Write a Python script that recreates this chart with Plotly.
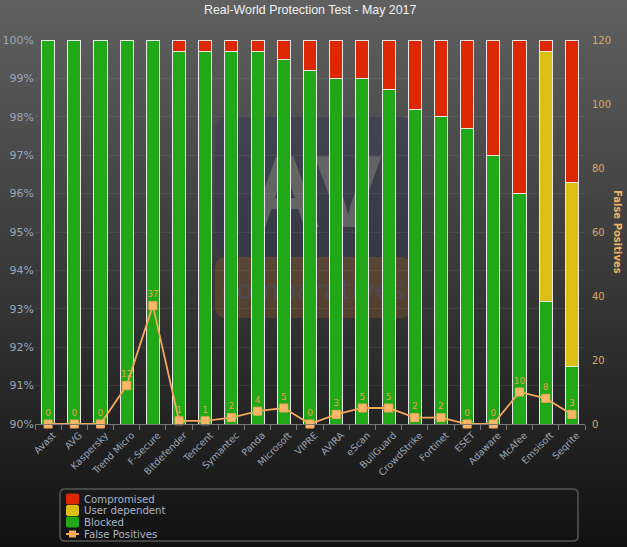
#!/usr/bin/env python3
import plotly.graph_objects as go

# --- DATA ---
vendors = ["Avast", "AVG", "Kaspersky", "Trend Micro", "F-Secure", "Bitdefender", "Tencent",
           "Symantec", "Panda", "Microsoft", "VIPRE", "AVIRA", "eScan", "BullGuard",
           "CrowdStrike", "Fortinet", "ESET", "Adaware", "McAfee", "Emsisoft", "Seqrite"]
blocked = [100, 100, 100, 100, 100, 99.7, 99.7, 99.7, 99.7, 99.5, 99.2,
           99.0, 99.0, 98.7, 98.2, 98.0, 97.7, 97.0, 96.0, 93.2, 91.5]
user_dependent = [0, 0, 0, 0, 0, 0, 0, 0, 0, 0, 0,
                  0, 0, 0, 0, 0, 0, 0, 0, 6.5, 4.8]
compromised = [0, 0, 0, 0, 0, 0.3, 0.3, 0.3, 0.3, 0.5, 0.8,
               1.0, 1.0, 1.3, 1.8, 2.0, 2.3, 3.0, 4.0, 0.3, 3.7]
false_positives = [0, 0, 0, 12, 37, 1, 1, 2, 4, 5, 0, 3, 5, 5, 2, 2, 0, 0, 10, 8, 3]
y_ticks = [90, 91, 92, 93, 94, 95, 96, 97, 98, 99, 100]
y2_ticks = [0, 20, 40, 60, 80, 100, 120]

# --- COLOURS ---
RED = "#dd2700"
YELLOW = "#dcbf14"
GREEN = "#21a819"
ORANGE = "#f5a85a"
ORANGE_TEXT = "#dca765"
AXIS_TEXT = "#9ba6b8"

# --- PAGE GEOMETRY ---
W, H = 627, 547
L, R, T, B = 35, 585, 40, 424


def px(x):
    return (x - L) / (R - L)


def py(y):
    return (B - y) / (B - T)


def rounded(x0, y0, x1, y1, r):
    return (f"M {px(x0 + r)} {py(y0)} L {px(x1 - r)} {py(y0)} Q {px(x1)} {py(y0)} {px(x1)} {py(y0 + r)} "
            f"L {px(x1)} {py(y1 - r)} Q {px(x1)} {py(y1)} {px(x1 - r)} {py(y1)} "
            f"L {px(x0 + r)} {py(y1)} Q {px(x0)} {py(y1)} {px(x0)} {py(y1 - r)} "
            f"L {px(x0)} {py(y0 + r)} Q {px(x0)} {py(y0)} {px(x0 + r)} {py(y0)} Z")


def rect(x0, y0, x1, y1, **kw):
    return dict(type="rect", xref="paper", yref="paper", x0=px(x0), x1=px(x1), y0=py(y1), y1=py(y0), **kw)


shapes = []

# background gradient, top to bottom
STEP = 3
for y in range(0, H, STEP):
    t = y / H
    g = round(0x60 + (0x11 - 0x60) * t)
    shapes.append(rect(0, y, W, y + STEP, layer="below", line_width=0, fillcolor=f"rgb({g},{g},{g})"))

# faint logo behind the bars
shapes.append(dict(type="path", xref="paper", yref="paper", layer="below", line_width=0,
                   path=rounded(215, 116, 412, 257, 14), fillcolor="rgba(45,50,85,0.35)"))
shapes.append(dict(type="path", xref="paper", yref="paper", layer="below", line_width=0,
                   path=rounded(215, 257, 412, 318, 12), fillcolor="rgba(170,100,40,0.27)"))
shapes.append(rect(235, 122, 395, 242, layer="below", line_width=0, fillcolor="rgba(0,0,0,0)",
                   label=dict(text="<b>AV</b>", font=dict(family="Liberation Sans", size=102, color="#646464"),
                              textposition="middle center")))
shapes.append(rect(215, 262, 412, 312, layer="below", line_width=0, fillcolor="rgba(0,0,0,0)",
                   label=dict(text="comparatives", font=dict(family="DejaVu Sans", size=27, color="#4d4c52"),
                              textposition="middle center")))

# legend box and entries, rows are tighter than the built-in legend allows
LEG_X0, LEG_Y0, LEG_X1, LEG_Y1 = 60, 489, 578, 541
shapes.append(dict(type="path", xref="paper", yref="paper", layer="above",
                   path=rounded(LEG_X0, LEG_Y0, LEG_X1, LEG_Y1, 5),
                   line=dict(color="#555555", width=1.5), fillcolor="rgba(0,0,0,0)"))
legend_rows = [("Compromised", RED, 499), ("User dependent", YELLOW, 510.5), ("Blocked", GREEN, 522)]
annotations = []
for name, colour, y in legend_rows:
    shapes.append(dict(type="path", xref="paper", yref="paper", layer="above", line_width=0,
                       path=rounded(66, y - 5.5, 79, y + 5.5, 2), fillcolor=colour))
shapes.append(rect(66, 533, 79, 535, layer="above", line_width=0, fillcolor=ORANGE))
shapes.append(rect(69, 530.5, 76, 537.5, layer="above", line_width=0, fillcolor=ORANGE))
for name, y in [("Compromised", 499), ("User dependent", 510.5), ("Blocked", 522), ("False Positives", 534)]:
    annotations.append(dict(xref="paper", yref="paper", x=px(82), y=py(y), text=name, showarrow=False,
                            xanchor="left", yanchor="middle", font=dict(family="DejaVu Sans", size=10.2, color="#a9b4c6")))

annotations.append(dict(xref="paper", yref="paper", x=px(310), y=py(9.5), text="Real-World Protection Test - May 2017",
                        showarrow=False, xanchor="center", yanchor="middle",
                        font=dict(family="Liberation Sans", size=12.4, color="#f2f2f2")))
annotations.append(dict(xref="paper", yref="paper", x=px(618), y=py(232), text="<b>False Positives</b>", textangle=90,
                        showarrow=False, xanchor="center", yanchor="middle",
                        font=dict(family="DejaVu Sans", size=10, color="#f2b162")))

# --- PLOT ---
fig = go.Figure()
bar_line = dict(color="#e8e8e8", width=1)
fig.add_bar(x=vendors, y=blocked, name="Blocked", marker=dict(color=GREEN, line=bar_line))
fig.add_bar(x=vendors, y=user_dependent, name="User dependent", marker=dict(color=YELLOW, line=bar_line))
fig.add_bar(x=vendors, y=compromised, name="Compromised", marker=dict(color=RED, line=bar_line))
fig.add_scatter(x=vendors, y=false_positives, name="False Positives", yaxis="y2", mode="lines+markers+text",
                text=[str(v) for v in false_positives], textposition="top center",
                textfont=dict(family="DejaVu Sans", size=9, color="#e0a548"),
                line=dict(color=ORANGE, width=1.8),
                marker=dict(symbol="square", size=8, color="#fdb76a", line=dict(color=ORANGE, width=1)),
                cliponaxis=False)

fig.update_layout(
    width=W, height=H,
    margin=dict(l=L, r=W - R, t=T, b=H - B, pad=0),
    barmode="stack", bargap=0.5,
    showlegend=False,
    paper_bgcolor="#1a1a1a", plot_bgcolor="rgba(0,0,0,0)",
    shapes=shapes, annotations=annotations,
    xaxis=dict(range=[-0.5, len(vendors) - 0.5], automargin=False,
               tickangle=-45, tickson="boundaries", ticks="outside", ticklen=5, tickcolor="#777777",
               ticklabelshift=5, ticklabelstandoff=1,
               showline=True, linecolor="#777777", linewidth=1, showgrid=False,
               tickfont=dict(family="DejaVu Sans", size=9.5, color=AXIS_TEXT)),
    yaxis=dict(range=[90, 100], automargin=False, tickvals=y_ticks, ticktext=[f"{v}%" for v in y_ticks],
               showgrid=True, gridcolor="rgba(255,255,255,0.07)", zeroline=False,
               tickfont=dict(family="DejaVu Sans", size=11, color=AXIS_TEXT)),
    yaxis2=dict(range=[0, 120], automargin=False, tickvals=y2_ticks, overlaying="y", side="right",
                showgrid=False, zeroline=False,
                ticks="outside", ticklen=4, tickcolor="rgba(0,0,0,0)",
                tickfont=dict(family="DejaVu Sans", size=10, color=ORANGE_TEXT)),
)

fig.write_html("out.html", config={"displayModeBar": False},
               post_script="document.body.style.margin='0';")
